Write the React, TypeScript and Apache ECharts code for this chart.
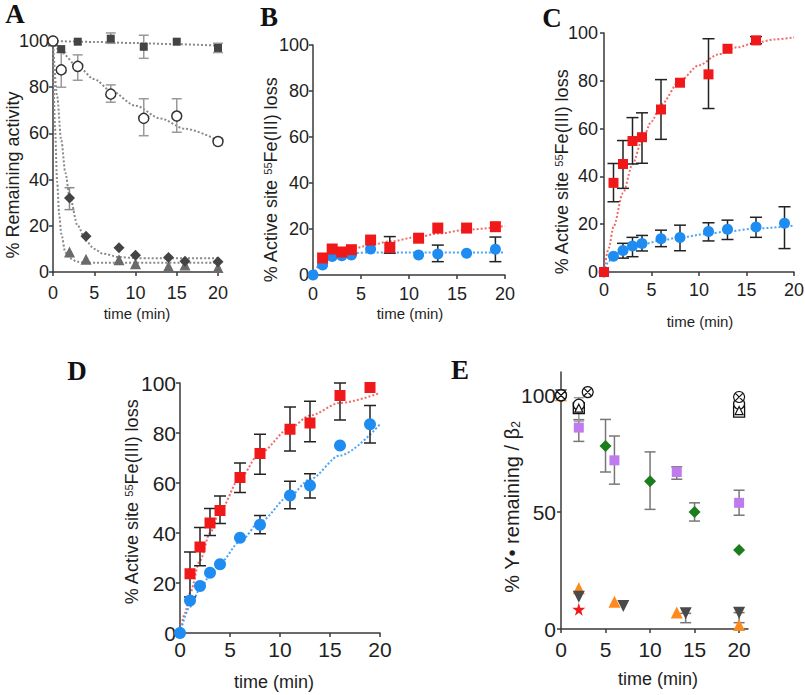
import React, { useEffect, useRef } from 'react';
import * as echarts from 'echarts';

// ---------- DATA ----------
// Panel A (% remaining activity)
const A_SQ = [[0, 100], [1, 96.5], [3, 99.7], [7, 101], [11, 97.5], [15, 99.7], [20, 97]];
const A_SQ_ERR = [[7, 99, 103.5], [11, 92.5, 102.5], [20, 95, 99]];
const A_CI = [[0, 100], [1, 87.5], [3, 89], [7, 77], [11, 66.5], [15, 67.5], [20, 56.5]];
const A_CI_ERR = [[1, 80, 95], [3, 83, 94], [7, 73.5, 81], [11, 59, 75], [15, 60.5, 75], [20, 55, 58]];
const A_DI = [[0, 100], [2, 32], [4, 15.5], [8, 10.5], [10, 7.3], [14, 6.3], [16, 4.7], [20, 4.4]];
const A_DI_ERR = [[2, 27, 36.5]];
const A_TR = [[0, 100], [2, 8.7], [4, 5.5], [8, 5.3], [10, 3.6], [14, 2.5], [16, 3], [20, 2]];
const A_SQ_FIT = [[0, 100], [5, 99.6], [10, 99.1], [15, 98.6], [20, 98]];
const A_CI_FIT = [[0, 100], [1, 95], [3, 89], [5, 83.5], [7, 78.5], [10, 72], [13, 66.5], [16, 62], [20, 57]];
const A_DI_FIT = [[0, 100], [0.5, 76], [1, 57], [1.5, 43], [2, 33], [3, 20], [4, 13.5], [5, 10], [6, 8], [8, 6.5], [10, 6], [20, 6]];
const A_TR_FIT = [[0, 100], [0.25, 62], [0.5, 39], [0.75, 25], [1, 16.5], [1.5, 8.5], [2, 6], [3, 4.4], [4, 4], [20, 4]];

// Panel B
const B_RED = [[1, 7.4], [2, 11.3], [3, 10], [4, 11], [6, 15.2], [8, 12], [11, 16], [13, 20.4], [16, 20.4], [19, 21]];
const B_RED_ERR = [[8, 9.5, 16.7]];
const B_BLUE = [[0, 0], [1, 4.3], [2, 8], [3, 8.4], [4, 8.7], [6, 11.3], [11, 8.7], [13, 9.1], [16, 9.5], [19, 11.2]];
const B_BLUE_ERR = [[13, 5.8, 13], [19, 5.8, 16.5]];
const B_RED_FIT = [[0, 0], [1, 6], [2, 8.8], [3, 10.3], [4, 11.3], [6, 13], [8, 14.6], [11, 16.6], [13, 18], [16, 19.7], [20, 21.3]];
const B_BLUE_FIT = [[0, 0], [1, 5], [2, 7.8], [3, 9], [4, 9.5], [6, 9.8], [10, 9.8], [20, 9.8]];

// Panel C
const C_RED = [[0, 0], [1, 37.3], [2, 45.2], [3, 54.8], [4, 56.4], [6, 68], [8, 79.2], [11, 82.7], [13, 93.4], [16, 96.9]];
const C_RED_ERR = [[1, 29.4, 45.4], [2, 35, 55], [3, 45.2, 64.6], [4, 45.5, 66.6], [6, 55.5, 80.5], [11, 68.4, 97.6], [16, 95.5, 98.5]];
const C_BLUE = [[0, 0], [1, 6.6], [2, 9], [3, 10.9], [4, 11.9], [6, 13.9], [8, 14.4], [11, 16.9], [13, 17.9], [16, 18.8], [19, 20.4]];
const C_BLUE_ERR = [[2, 5.8, 12], [3, 6.4, 14.5], [4, 8.8, 15.3], [6, 10.6, 17.5], [8, 8.9, 19.6], [11, 13, 20.6], [13, 13.6, 21.7], [16, 14.5, 22.9], [19, 9.8, 27.3]];
const C_RED_FIT = [[0, 0], [0.5, 10], [1, 19], [2, 33], [3, 45], [4, 55], [5, 63], [6, 70], [8, 80], [10, 86.5], [12, 91], [14, 94], [16, 96], [18, 97.3], [20, 98.2]];
const C_BLUE_FIT = [[0, 0], [0.5, 4.5], [1, 6.8], [2, 9], [3, 10.5], [4, 11.5], [6, 13.2], [8, 14.5], [11, 16], [13, 17], [16, 18.2], [20, 19.4]];

// Panel D
const D_RED = [[1, 23.7], [2, 34.4], [3, 44], [4, 49], [6, 62.2], [8, 71.8], [11, 81.5], [13, 84], [16, 95], [19, 98.2]];
const D_RED_ERR = [[1, 14.4, 32.4], [2, 26.9, 42.2], [3, 39, 49.8], [4, 43.8, 54.8], [6, 56.2, 68], [8, 63.5, 79.5], [11, 72.8, 90.4], [13, 76.5, 92.7], [16, 85.2, 100]];
const D_BLUE = [[0, 0], [1, 13], [2, 18.8], [3, 24.1], [4, 27.5], [6, 38.1], [8, 43.3], [11, 55], [13, 59], [16, 75], [19, 83.5]];
const D_BLUE_ERR = [[8, 39.7, 47], [11, 49.7, 60.7], [13, 54, 63.7], [19, 76, 91]];
const D_RED_FIT = [[0, 0], [0.5, 8], [1, 16], [2, 29], [3, 40], [4, 49], [6, 62], [8, 72], [11, 82], [13, 87], [16, 92], [20, 96]];
const D_BLUE_FIT = [[0, 0], [1, 10.5], [2, 17.5], [3, 23], [4, 28], [6, 36.5], [8, 44.5], [11, 55], [13, 61.5], [16, 71], [20, 83.5]];

// Panel E (% Y• remaining / β2)
const E_PURPLE = [[0, 100], [2, 86.2], [6, 72.2], [13, 67.2], [20, 54]];
const E_PURPLE_ERR = [[2, 80.3, 89.6], [6, 62, 82.6], [13, 64.1, 69.4], [20, 48.7, 59.4]];
const E_GREEN = [[0, 100], [5, 78.3], [10, 63.2], [15, 50.1], [20, 33.8]];
const E_GREEN_ERR = [[5, 67.2, 89.7], [10, 51.2, 75.8], [15, 46.2, 54]];
const E_ORANGE = [[0, 100], [2, 17.4], [6, 11.7], [13, 7.1], [20, 1.7]];
const E_GRAY = [[0, 100], [2, 13.8], [7, 9.8], [14, 6.7], [20, 7]];
const E_GRAY_ERR = [[14, 2.7, 6.7], [20, 2.7, 7]];
const E_STAR = [[2, 8.4]];
const E_OTIMES = [[0, 100], [3, 101.4], [20, 99.3]];
const E_OCIRCLE = [[0, 100], [2, 96], [20, 96.4]];
const E_OSQUARE = [[2, 94.5], [20, 93]];
const E_OTRI = [[2, 94.5], [20, 93.5]];
const E_OPEN_ERR = [[2, 89, 99]];

const X_TICKS = [0, 5, 10, 15, 20];
const E_Y_TICKS = [0, 50, 100];

// ---------- STYLE ----------
const SANS = 'Liberation Sans, Arial, sans-serif';
const SERIF = 'Liberation Serif, Times New Roman, serif';
const AXIS = '#3a3a3a';
const TXT = '#1e1e1e';
const RED = '#f01818';
const BLUE = '#1e8cf0';
const RED_FIT = '#f26a6a';
const BLUE_FIT = '#4da6f5';

type Panel = {
  left: number; top: number; width: number; height: number;
  xMax: number; yMax: number; yInterval: number; font: number;
  xMargin: number; yMargin: number; yCustom?: number[];
};

const PANELS: Panel[] = [
  { left: 53, top: 41, width: 165, height: 231, xMax: 20, yMax: 100, yInterval: 20, font: 18, xMargin: 12, yMargin: 4 },
  { left: 313, top: 45, width: 192, height: 230, xMax: 20, yMax: 100, yInterval: 20, font: 18, xMargin: 10, yMargin: 4 },
  { left: 604, top: 33, width: 190, height: 239, xMax: 20, yMax: 100, yInterval: 20, font: 18, xMargin: 9, yMargin: 6 },
  { left: 180, top: 383, width: 200, height: 250, xMax: 20, yMax: 100, yInterval: 20, font: 21, xMargin: 6, yMargin: 4 },
  { left: 561, top: 372, width: 187, height: 257, xMax: 21, yMax: 110, yInterval: 50, font: 21, xMargin: 10, yMargin: 5, yCustom: E_Y_TICKS },
];

function errSeries(gi: number, data: number[][], color: string, cap: number, width = 1.5) {
  return {
    type: 'custom', coordinateSystem: 'cartesian2d', xAxisIndex: gi, yAxisIndex: gi,
    z: 2, clip: false, silent: true, data, encode: { x: 0, y: [1, 2] },
    renderItem: (_p: any, api: any) => {
      const x = api.value(0);
      const lo = api.coord([x, api.value(1)]);
      const hi = api.coord([x, api.value(2)]);
      const h = cap / 2;
      const st = { stroke: color, lineWidth: width, fill: 'none' };
      return {
        type: 'group',
        children: [
          { type: 'line', shape: { x1: lo[0], y1: lo[1], x2: hi[0], y2: hi[1] }, style: st },
          { type: 'line', shape: { x1: lo[0] - h, y1: lo[1], x2: lo[0] + h, y2: lo[1] }, style: st },
          { type: 'line', shape: { x1: hi[0] - h, y1: hi[1], x2: hi[0] + h, y2: hi[1] }, style: st },
        ],
      };
    },
  };
}

function sc(gi: number, data: number[][], symbol: string, size: number, color: string, o: any = {}) {
  return {
    type: 'scatter', xAxisIndex: gi, yAxisIndex: gi, data, symbol, symbolSize: size,
    symbolRotate: o.rot || 0, clip: false, silent: true, z: o.z || 4,
    itemStyle: { color, borderColor: o.border || color, borderWidth: o.bw || 0, opacity: 1 },
  };
}

function fit(gi: number, data: number[][], color: string, width = 2) {
  return {
    type: 'line', xAxisIndex: gi, yAxisIndex: gi, data, symbol: 'none', showSymbol: false,
    smooth: 0.3, smoothMonotone: 'x', clip: false, silent: true, z: 1,
    lineStyle: { color, width, type: 'dotted' },
  };
}

const OTIMES = 'path://M10,1A9,9 0 1,1 9.99,1Z M3.6,3.6L16.4,16.4M16.4,3.6L3.6,16.4';
const STAR = 'path://M50,2L61,37L98,37L68,59L79,94L50,72L21,94L32,59L2,37L39,37Z';

function yTitle(x: number, y: number, text: string, size: number, rich: any = undefined) {
  return {
    type: 'text', x, y, rotation: Math.PI / 2, silent: true,
    style: { text, fontSize: size, fontWeight: 'normal', fontFamily: SANS, fill: TXT, align: 'center', verticalAlign: 'middle', rich },
  };
}
function xTitle(x: number, y: number, size: number) {
  return {
    type: 'text', x, y, silent: true,
    style: { text: 'time (min)', fontSize: size, fontWeight: 'normal', fontFamily: SANS, fill: TXT, align: 'center', verticalAlign: 'middle' },
  };
}
function letter(x: number, y: number, t: string) {
  return {
    type: 'text', x, y, silent: true,
    style: { text: t, fontSize: 27, fontWeight: 'bold', fontFamily: SERIF, fill: '#111', align: 'center', verticalAlign: 'middle' },
  };
}

function buildOption() {
  const grid = PANELS.map((p) => ({ left: p.left, top: p.top, width: p.width, height: p.height, containLabel: false, outerBoundsMode: 'none' }));
  const lineStyle = { color: AXIS, width: 1.5 };
  const xAxis = PANELS.map((p, i) => ({
    type: 'value', gridIndex: i, min: 0, max: p.xMax, interval: 5,
    axisLine: { show: true, onZero: false, lineStyle },
    axisTick: { show: true, length: 4, lineStyle, customValues: X_TICKS },
    axisLabel: { fontSize: p.font, fontWeight: 'normal', fontFamily: SANS, color: TXT, margin: p.xMargin, customValues: X_TICKS },
    splitLine: { show: false },
  }));
  const yAxis = PANELS.map((p, i) => ({
    type: 'value', gridIndex: i, min: 0, max: p.yMax, interval: p.yInterval,
    axisLine: { show: true, onZero: false, lineStyle },
    axisTick: p.yCustom ? { show: true, length: 4, lineStyle, customValues: p.yCustom } : { show: true, length: 4, lineStyle },
    axisLabel: p.yCustom
      ? { fontSize: p.font, fontWeight: 'normal', fontFamily: SANS, color: TXT, margin: p.yMargin, customValues: p.yCustom }
      : { fontSize: p.font, fontWeight: 'normal', fontFamily: SANS, color: TXT, margin: p.yMargin },
    splitLine: { show: false },
  }));

  const series: any[] = [
    // A
    fit(0, A_SQ_FIT, '#8a8a8a'), fit(0, A_CI_FIT, '#8a8a8a'), fit(0, A_DI_FIT, '#8a8a8a'), fit(0, A_TR_FIT, '#8a8a8a'),
    errSeries(0, A_SQ_ERR, '#9a9a9a', 10), errSeries(0, A_CI_ERR, '#9a9a9a', 10), errSeries(0, A_DI_ERR, '#8a8a8a', 10),
    sc(0, A_TR, 'triangle', 11, '#6a6a6a', { z: 3 }),
    sc(0, A_DI, 'diamond', 11, '#444444', { z: 4 }),
    sc(0, A_SQ, 'rect', 8, '#444444', { z: 5 }),
    sc(0, A_CI, 'circle', 10, '#ffffff', { border: '#333333', bw: 1.5, z: 6 }),
    // B
    fit(1, B_RED_FIT, RED_FIT), fit(1, B_BLUE_FIT, BLUE_FIT),
    errSeries(1, B_RED_ERR, '#222222', 12), errSeries(1, B_BLUE_ERR, '#222222', 12),
    sc(1, B_BLUE, 'circle', 11, BLUE, { z: 4 }),
    sc(1, B_RED, 'rect', 11, RED, { z: 5 }),
    // C
    fit(2, C_RED_FIT, RED_FIT), fit(2, C_BLUE_FIT, BLUE_FIT),
    errSeries(2, C_RED_ERR, '#222222', 12), errSeries(2, C_BLUE_ERR, '#222222', 12),
    sc(2, C_BLUE, 'circle', 11, BLUE, { z: 4 }),
    sc(2, C_RED, 'rect', 10, RED, { z: 5 }),
    // D
    fit(3, D_RED_FIT, RED_FIT), fit(3, D_BLUE_FIT, BLUE_FIT),
    errSeries(3, D_RED_ERR, '#222222', 12), errSeries(3, D_BLUE_ERR, '#222222', 12),
    sc(3, D_BLUE, 'circle', 12, BLUE, { z: 4 }),
    sc(3, D_RED, 'rect', 11, RED, { z: 5 }),
    // E
    errSeries(4, E_PURPLE_ERR, '#777777', 11), errSeries(4, E_GREEN_ERR, '#777777', 11),
    errSeries(4, E_GRAY_ERR, '#777777', 11), errSeries(4, E_OPEN_ERR, '#999999', 10),
    sc(4, E_PURPLE, 'rect', 10, '#c07af0', { z: 4 }),
    sc(4, E_GREEN, 'diamond', 12, '#1b7d1b', { z: 4 }),
    sc(4, E_ORANGE, 'triangle', 12, '#ff8a1c', { z: 4 }),
    sc(4, E_GRAY, 'triangle', 12, '#4a4a4a', { rot: 180, z: 5 }),
    sc(4, E_STAR, STAR, 13, RED, { z: 6 }),
    sc(4, E_OSQUARE, 'rect', 11, '#ffffff', { border: '#111111', bw: 1.3, z: 6 }),
    sc(4, E_OCIRCLE, 'circle', 11, '#ffffff', { border: '#111111', bw: 1.3, z: 7 }),
    sc(4, E_OTRI, 'triangle', 8, '#ffffff', { border: '#111111', bw: 1.2, z: 8 }),
    sc(4, E_OTIMES, OTIMES, 11, '#ffffff', { border: '#111111', bw: 1.2, z: 9 }),
  ];

  const supRich = { sup: { fontSize: 11, fontFamily: SANS, fill: TXT, verticalAlign: 'top' } };
  const subRich = { sub: { fontSize: 12, fontFamily: SANS, fill: TXT, verticalAlign: 'bottom' } };
  const feTitle = '% Active site {sup|55}Fe(III) loss';

  const graphic = [
    letter(15, 14, 'A'), letter(269, 17, 'B'), letter(552, 18, 'C'), letter(77, 371, 'D'), letter(460, 370, 'E'),
    yTitle(13, 175, '% Remaining activity', 18),
    yTitle(271, 180, feTitle, 18, supRich),
    yTitle(562, 172, feTitle, 18, supRich),
    yTitle(132, 502, feTitle, 18, supRich),
    yTitle(512, 507, '% Y\u2022 remaining / \u03b2{sub|2}', 20, subRich),
    xTitle(137, 313, 15), xTitle(410, 313, 15), xTitle(700, 321, 15), xTitle(274, 682, 18), xTitle(658, 679, 18),
  ];

  return { animation: false, backgroundColor: '#ffffff', grid, xAxis, yAxis, series, graphic };
}

export default function App() {
  const ref = useRef<HTMLDivElement>(null);
  useEffect(() => {
    if (!ref.current) return;
    const chart = echarts.init(ref.current, undefined, { renderer: 'svg' });
    chart.setOption(buildOption() as any);
    return () => chart.dispose();
  }, []);
  return <div ref={ref} style={{ position: 'fixed', left: 0, top: 0, width: 805, height: 695, background: '#fff' }} />;
}
